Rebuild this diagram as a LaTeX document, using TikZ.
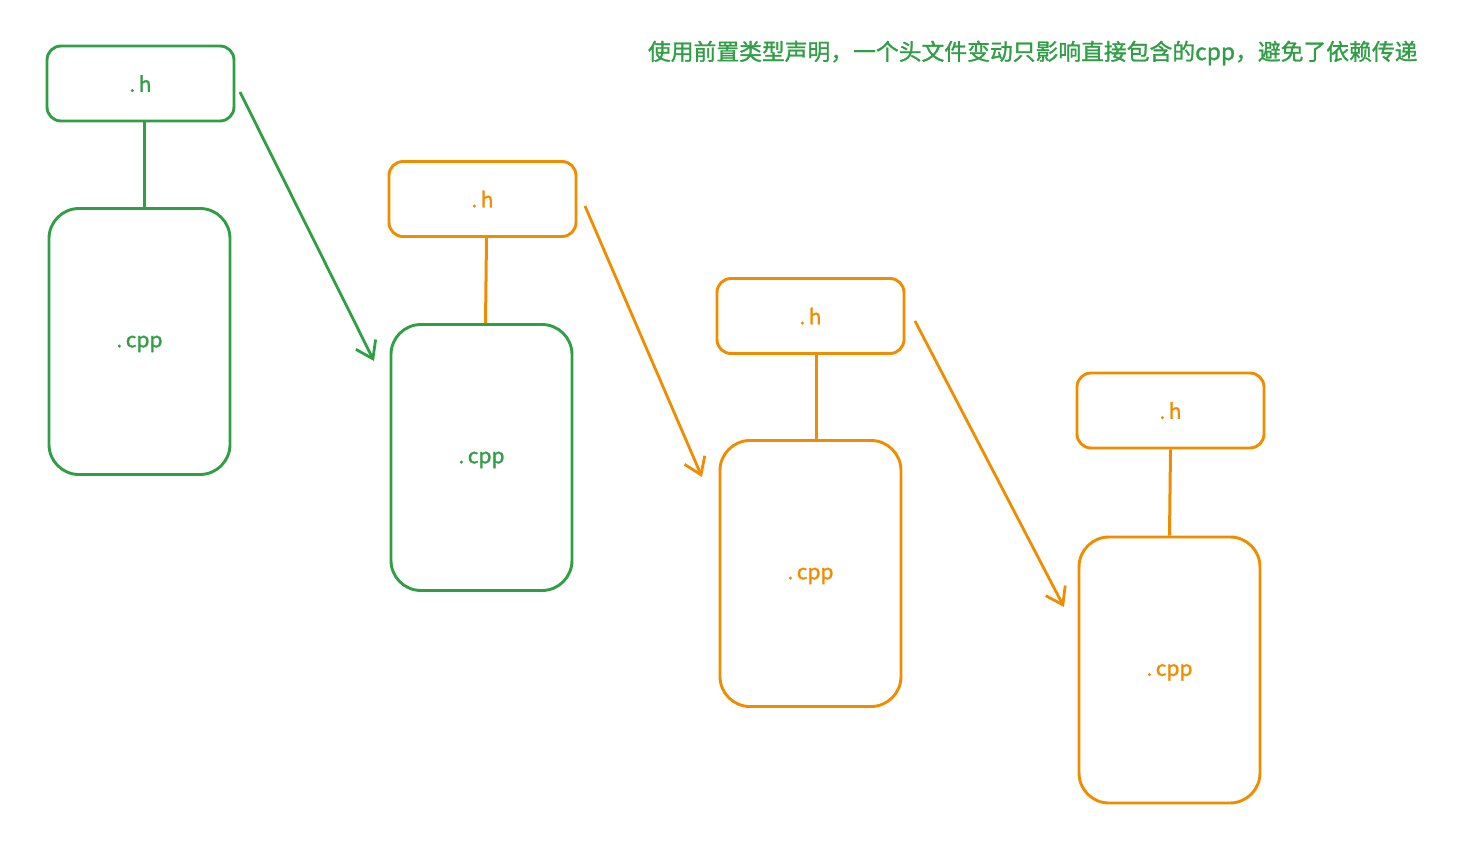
\documentclass[tikz,border=0pt]{standalone}
\usepackage{fontspec}
\newfontfamily\cjk[FakeBold=1.2]{Noto Sans CJK SC}
\usetikzlibrary{arrows.meta}
\definecolor{exgreen}{HTML}{2F9E44}
\definecolor{exorange}{HTML}{F08C00}
\tikzset{
  lbl/.style={font=\cjk\fontsize{21}{25}\selectfont, text depth=0pt},
  hbox/.style={draw, line width=2.9pt, rounded corners=14pt, minimum width=187pt, minimum height=75pt, inner sep=0pt, lbl},
  cppbox/.style={draw, line width=2.9pt, rounded corners=30pt, minimum width=181pt, minimum height=266pt, inner sep=0pt, lbl},
  link/.style={line width=3pt},
  dep/.style={line width=2.8pt, -{Straight Barb[length=16pt,width=22pt,line width=2.8pt]}},
}
\begin{document}
\begin{tikzpicture}[x=1pt,y=-1pt]
\useasboundingbox (0,0) rectangle (1475,845);
\node[text=exgreen, font=\cjk\fontsize{22.8}{27}\selectfont, anchor=east] (title) at (1421,53) {使用前置类型声明，一个头文件变动只影响直接包含的cpp，避免了依赖传递};

\node[hbox, draw=exgreen, text=exgreen] (h1) at (140.5,83.5) {.\,h};
\node[cppbox, draw=exgreen, text=exgreen] (c1) at (139.5,341.5) {.\,cpp};
\node[hbox, draw=exorange, text=exorange] (h2) at (482.5,199) {.\,h};
\node[cppbox, draw=exgreen, text=exgreen] (c2) at (481.5,457.5) {.\,cpp};
\node[hbox, draw=exorange, text=exorange] (h3) at (810.5,316) {.\,h};
\node[cppbox, draw=exorange, text=exorange] (c3) at (810.5,573.5) {.\,cpp};
\node[hbox, draw=exorange, text=exorange] (h4) at (1170.5,410.5) {.\,h};
\node[cppbox, draw=exorange, text=exorange] (c4) at (1169.5,670) {.\,cpp};

\draw[link, exgreen] ([xshift=4pt]h1.south) -- ([xshift=5pt]c1.north);
\draw[link, exorange] ([xshift=4pt]h2.south) -- ([xshift=4pt]c2.north);
\draw[link, exorange] ([xshift=6pt]h3.south) -- ([xshift=6pt]c3.north);
\draw[link, exorange] (h4.south) -- (c4.north);

\coordinate (a1s) at (240,92);
\coordinate (a1e) at (374,361);
\coordinate (a2s) at (585,206);
\coordinate (a2e) at (702,477);
\coordinate (a3s) at (915,321);
\coordinate (a3e) at (1064,607);
\draw[dep, exgreen] (a1s) -- (a1e);
\draw[dep, exorange] (a2s) -- (a2e);
\draw[dep, exorange] (a3s) -- (a3e);
\end{tikzpicture}
\end{document}
